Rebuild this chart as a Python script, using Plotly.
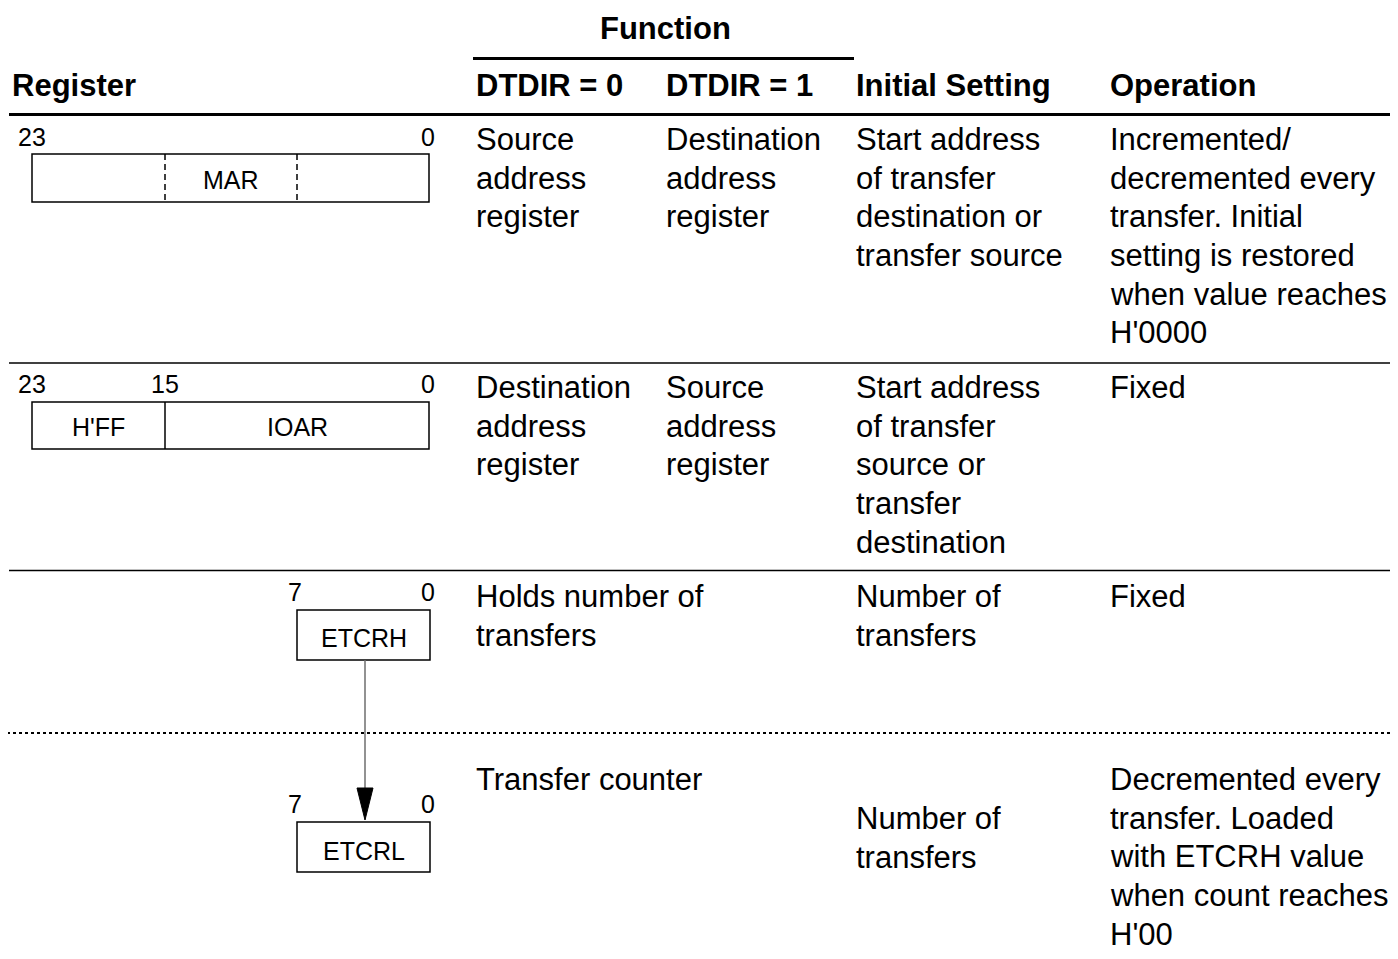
import plotly.graph_objects as go

# ---------------- data (table contents) ----------------
group_header = "Function"
column_headers = ["Register", "DTDIR = 0", "DTDIR = 1", "Initial Setting", "Operation"]

dtdir0_text = ["Source<br>address<br>register",
               "Destination<br>address<br>register",
               "Holds number of<br>transfers",
               "Transfer counter"]
dtdir1_text = ["Destination<br>address<br>register",
               "Source<br>address<br>register",
               "",
               ""]
initial_setting_text = ["Start address<br>of transfer<br>destination or<br>transfer source",
                        "Start address<br>of transfer<br>source or<br>transfer<br>destination",
                        "Number of<br>transfers",
                        "Number of<br>transfers"]
operation_text = ["Incremented/<br>decremented every<br>transfer. Initial<br>setting is restored<br>when value reaches<br>H'0000",
                  "Fixed",
                  "Fixed",
                  "Decremented every<br>transfer. Loaded<br>with ETCRH value<br>when count reaches<br>H'00"]

# register diagrams: field names and bit labels
register_fields = [["MAR"], ["H'FF", "IOAR"], ["ETCRH"], ["ETCRL"]]
register_bits = [["23", "0"], ["23", "15", "0"], ["7", "0"], ["7", "0"]]

# ---------------- layout constants (pixels) ----------------
W, H = 1398, 959
PAGE_MARGIN = 8          # default body margin of the html page
FONT = "Liberation Sans, Arial, Helvetica, sans-serif"
BODY = 31
HEAD = 31
SMALL = 25
PITCH = 38.7
COL_X = [12, 476, 666, 856, 1110]
ROW_BASE = [150, 398, 607, 790]
INIT_SHIFT = [0, 0, 0, 39]
ASC = 0.905  # font ascent ratio


fig = go.Figure()
fig.add_trace(go.Scatter(x=[PAGE_MARGIN + 1], y=[PAGE_MARGIN + 1], mode="markers",
                         marker=dict(opacity=0), hoverinfo="skip", showlegend=False))

shapes = []
annotations = []


def text(x, base, s, size=BODY, bold=False, xanchor="left"):
    for k, part in enumerate(s.split("<br>")):
        annotations.append(dict(
            x=x, y=base + k * PITCH - ASC * size, xref="x", yref="y",
            text=("<b>%s</b>" % part) if bold else part, showarrow=False,
            xanchor=xanchor, yanchor="top", align="left",
            borderpad=0, borderwidth=0,
            font=dict(family=FONT, size=size, color="black")))


def line(x0, y0, x1, y1, width=1.5, color="black", dash=None):
    ln = dict(color=color, width=width)
    if dash:
        ln["dash"] = dash
    shapes.append(dict(type="line", xref="x", yref="y", x0=x0, y0=y0, x1=x1, y1=y1, line=ln))


def rect(x0, y0, x1, y1, width=1.5):
    shapes.append(dict(type="rect", xref="x", yref="y", x0=x0, y0=y0, x1=x1, y1=y1,
                       line=dict(color="black", width=width), fillcolor="rgba(0,0,0,0)"))


# headers
text(665, 39, group_header, size=HEAD, bold=True, xanchor="center")
line(473, 58.5, 854, 58.5, width=3)
for cx, h in zip(COL_X, column_headers):
    text(cx, 96, h, size=HEAD, bold=True)
line(9, 114.5, W, 114.5, width=3)

# row separators
line(9, 363, W, 363, width=1.5)
line(9, 570.5, W, 570.5, width=1.5)
line(7, 733, W, 733, width=2, dash="dot")

# body text
for i in range(4):
    text(COL_X[1], ROW_BASE[i], dtdir0_text[i])
    if dtdir1_text[i]:
        text(COL_X[2], ROW_BASE[i], dtdir1_text[i])
    text(COL_X[3], ROW_BASE[i] + INIT_SHIFT[i], initial_setting_text[i])
    text(COL_X[4], ROW_BASE[i], operation_text[i])

# register 1: MAR
rect(32, 154, 429, 202)
line(165, 154, 165, 202, width=1.5, dash="6px,4px")
line(297, 154, 297, 202, width=1.5, dash="6px,4px")
text(18, 146, register_bits[0][0], size=SMALL)
text(435, 146, register_bits[0][1], size=SMALL, xanchor="right")
text(231, 189, register_fields[0][0], size=SMALL, xanchor="center")

# register 2: H'FF | IOAR
rect(32, 402, 429, 449)
line(165, 402, 165, 449, width=1.5)
text(18, 393, register_bits[1][0], size=SMALL)
text(165, 393, register_bits[1][1], size=SMALL, xanchor="center")
text(435, 393, register_bits[1][2], size=SMALL, xanchor="right")
text(98.5, 436, register_fields[1][0], size=SMALL, xanchor="center")
text(297, 436, register_fields[1][1], size=SMALL, xanchor="center")

# register 3: ETCRH
rect(297, 610, 430, 660)
text(295, 601, register_bits[2][0], size=SMALL, xanchor="center")
text(435, 601, register_bits[2][1], size=SMALL, xanchor="right")
text(364, 647, register_fields[2][0], size=SMALL, xanchor="center")

# register 4: ETCRL
rect(297, 822, 430, 872)
text(295, 813, register_bits[3][0], size=SMALL, xanchor="center")
text(435, 813, register_bits[3][1], size=SMALL, xanchor="right")
text(364, 860, register_fields[3][0], size=SMALL, xanchor="center")

# arrow ETCRH -> ETCRL
line(365, 660, 365, 790, width=1.5, color="#6e6e6e")
shapes.append(dict(type="path", xref="x", yref="y",
                   path="M 357,788 L 373,788 L 365,820 Z",
                   fillcolor="black", line=dict(color="black", width=1)))

# figure is shrunk by the page margin so that 1 axis unit == 1 screen pixel
FW, FH = W - 2 * PAGE_MARGIN, H - 2 * PAGE_MARGIN
fig.update_layout(
    width=FW, height=FH, margin=dict(l=0, r=0, t=0, b=0),
    paper_bgcolor="white", plot_bgcolor="white",
    xaxis=dict(range=[PAGE_MARGIN, PAGE_MARGIN + FW], visible=False, fixedrange=True),
    yaxis=dict(range=[PAGE_MARGIN + FH, PAGE_MARGIN], visible=False, fixedrange=True),
    shapes=shapes, annotations=annotations, showlegend=False,
)

fig.write_html("out.html")
